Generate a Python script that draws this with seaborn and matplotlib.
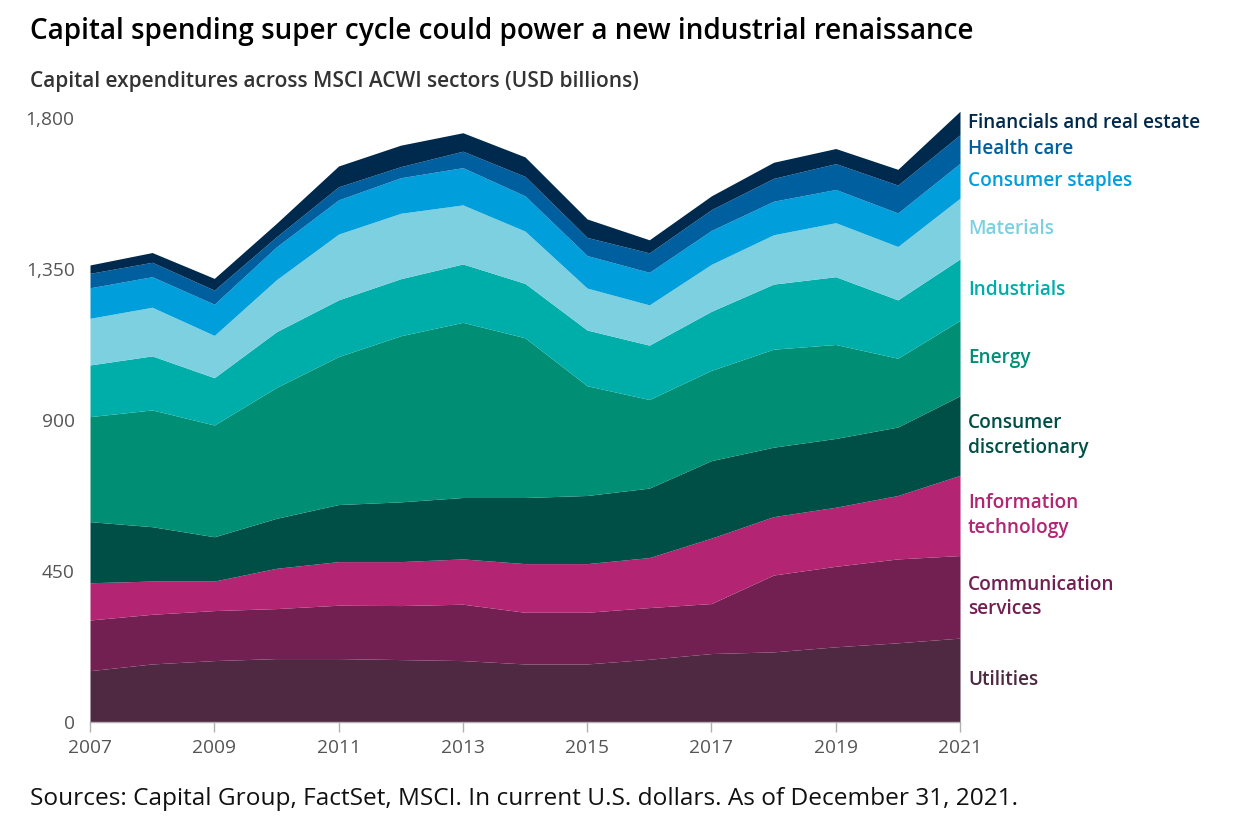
import matplotlib
matplotlib.use("Agg")
import matplotlib.pyplot as plt
import seaborn as sns
import numpy as np
import pandas as pd

# ---- data (USD billions) ----
years = list(range(2007, 2022))
sectors = ["Utilities", "Communication\nservices", "Information\ntechnology",
           "Consumer\ndiscretionary", "Energy", "Industrials", "Materials",
           "Consumer staples", "Health care", "Financials and real estate"]
utilities      = [153, 173, 183, 189, 189, 186, 183, 173, 173, 187, 204, 209, 224, 236, 250]
communication  = [151, 148, 149, 149, 159, 161, 168, 154, 154, 154, 149, 229, 240, 250, 246]
info_tech      = [111,  99,  88, 120, 130, 131, 135, 145, 145, 149, 195, 174, 176, 189, 239]
cons_discr     = [182, 162, 132, 149, 170, 178, 183, 197, 203, 207, 231, 207, 205, 204, 237]
energy         = [313, 348, 333, 390, 441, 495, 522, 476, 327, 264, 269, 292, 280, 205, 225]
industrials    = [154, 161, 141, 166, 169, 170, 174, 162, 166, 162, 176, 194, 202, 174, 183]
materials      = [139, 145, 126, 155, 196, 195, 176, 156, 125, 120, 140, 147, 161, 159, 181]
cons_staples   = [ 91,  91,  93,  98, 102, 106, 111, 105,  97,  97, 101, 100,  99, 100, 104]
health_care    = [ 43,  43,  42,  30,  39,  33,  49,  58,  54,  58,  62,  68,  77,  83,  85]
financials     = [ 25,  29,  35,  40,  62,  64,  55,  58,  55,  39,  41,  48,  45,  47,  70]
y_ticks = [0, 450, 900, 1350, 1800]
x_ticks = [2007, 2009, 2011, 2013, 2015, 2017, 2019, 2021]

series = [utilities, communication, info_tech, cons_discr, energy,
          industrials, materials, cons_staples, health_care, financials]
df = pd.DataFrame({s: v for s, v in zip(sectors, series)}, index=years)

fill_colors = ["#4F2942", "#722052", "#B32572", "#004F47", "#008F74",
               "#00AEA9", "#7DD0E0", "#009EDB", "#005F9E", "#002A4D"]
label_colors = ["#4F2942", "#722052", "#B32572", "#004F47", "#008F74",
                "#00AEA9", "#7DD0E0", "#009EDB", "#005F9E", "#002A4D"]

sns.set_theme(style="white")
plt.rcParams["font.family"] = ["Open Sans", "DejaVu Sans"]
palette = sns.color_palette(fill_colors)

fig = plt.figure(figsize=(12.52, 8.26), dpi=100)
W, H = 1252, 826
ax = fig.add_axes([90 / W, 1 - 722 / H, 870 / W, (722 - 101.2) / H])

ax.stackplot(df.index, *[df[c].values for c in sectors], colors=palette,
             linewidth=0, antialiased=True)

ax.set_xlim(2007, 2021)
ax.set_ylim(0, 1850)
ax.set_xticks(x_ticks)
ax.set_xticklabels([str(x) for x in x_ticks])
ax.set_yticks(y_ticks)
ax.set_yticklabels([f"{v:,}" for v in y_ticks])

for side in ["top", "right", "left"]:
    ax.spines[side].set_visible(False)
ax.spines["bottom"].set_color("#b0b0b0")
ax.spines["bottom"].set_linewidth(1.0)
ax.tick_params(axis="x", bottom=True, length=7, width=1, color="#b0b0b0",
               labelsize=13.8, labelcolor="#555555", pad=5)
ax.tick_params(axis="y", left=False, labelsize=13.8, labelcolor="#555555", pad=5)
ax.grid(False)

# right-side labels at band midpoints of the last year
cum = df.cumsum(axis=1).iloc[-1].values
bottoms = np.concatenate([[0], cum[:-1]])
mids = (cum + bottoms) / 2
for name, mid, col in zip(sectors, mids, label_colors):
    ypos = min(mid, y_ticks[-1])
    ax.text(2021 + 0.13, ypos, name, color=col, fontsize=13.7,
            fontweight="semibold", va="center", ha="left", linespacing=1.3,
            clip_on=False)

fig.text(30 / W, 1 - 31 / H,
         "Capital spending super cycle could power a new industrial renaissance",
         fontsize=20.1, fontweight="semibold", color="#000000", va="center", ha="left")
fig.text(30 / W, 1 - 82 / H,
         "Capital expenditures across MSCI ACWI sectors (USD billions)",
         fontsize=15, fontweight="semibold", color="#333333", va="center", ha="left")
fig.text(30 / W, 1 - 799 / H,
         "Sources: Capital Group, FactSet, MSCI. In current U.S. dollars. As of December 31, 2021.",
         fontsize=17.6, color="#111111", va="center", ha="left")

fig.savefig("out.png", dpi=100)
